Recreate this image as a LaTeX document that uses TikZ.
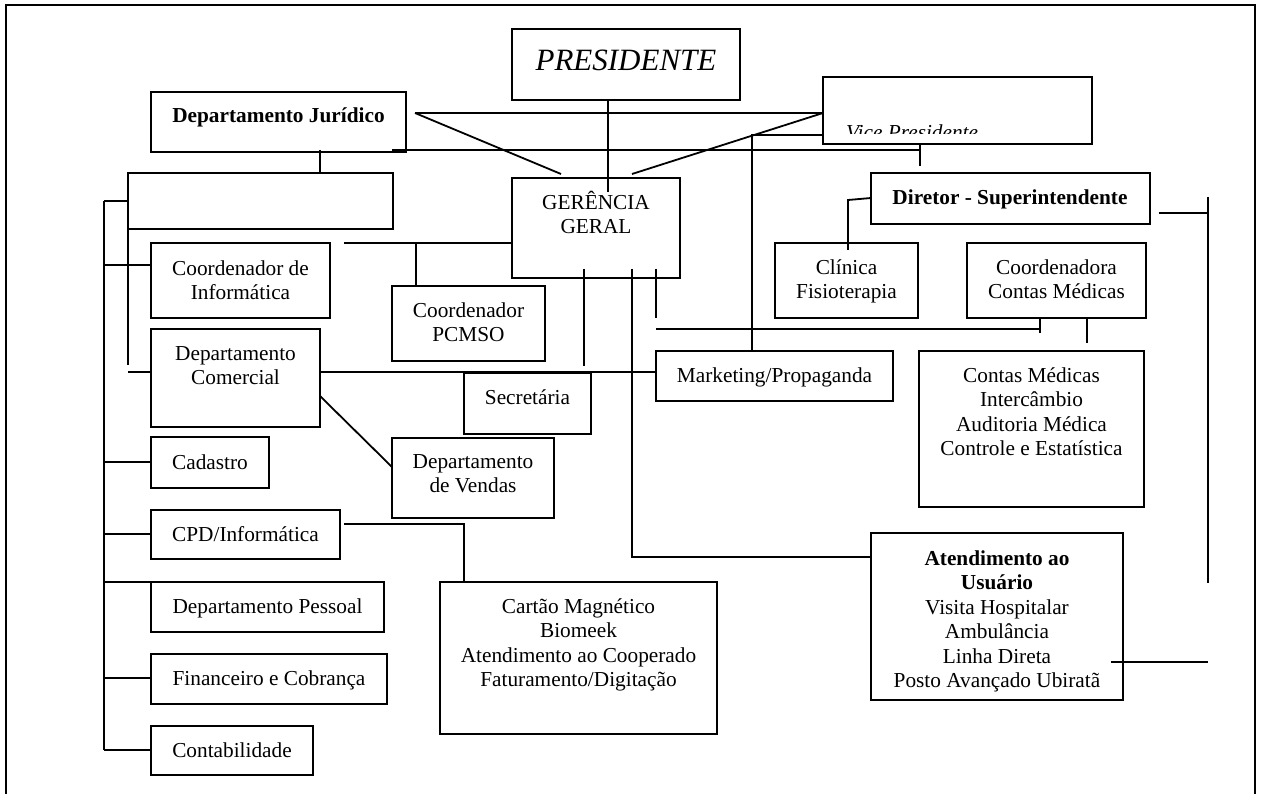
\documentclass[tikz,border=0pt]{standalone}
\usepackage{fontspec}
\setmainfont{Liberation Serif}
\newcommand\sz{\fontsize{21.3}{24.5}\selectfont}
\newcommand\hs{\rule{0pt}{20pt}}
\newcommand\obox[5]{\node[box, minimum width={#4-#2}, minimum height={#5-#3}] (#1) at ({(#2+#4)/2},{(#3+#5)/2}) {};}
\tikzset{
  box/.style={draw, line width=2.4pt, inner sep=0pt, outer sep=0pt, rectangle},
  ln/.style={line width=1.8pt},
  txt/.style={inner sep=0pt, anchor=north, align=center, font=\sz},
}
\begin{document}
\begin{tikzpicture}[x=1pt,y=-1pt]
\useasboundingbox (0,0) rectangle (1261,794);
\fill[white] (0,0) rectangle (1261,794);
% outer frame
\draw[line width=1.5pt] (6,794) -- (6,5) -- (1255,5) -- (1255,794);

% boxes
\obox{pres}{512}{29}{740}{100}
\obox{dj}{151}{92}{406}{152}
\obox{vp}{823}{77}{1092}{144}
\obox{blank}{128}{173}{393}{229}
\obox{ger}{512}{178}{680}{278}
\obox{dir}{871}{173}{1150}{224}
\obox{coordinf}{151}{243}{330}{318}
\obox{pcmso}{392}{286}{545}{361}
\obox{clin}{775}{243}{918}{318}
\obox{coordcm}{967}{243}{1146}{318}
\obox{com}{151}{329}{320}{427}
\obox{sec}{464}{373}{591}{434}
\obox{mkt}{656}{351}{893}{401}
\obox{cm}{919}{351}{1144}{507}
\obox{vendas}{392}{438}{554}{518}
\obox{cad}{151}{437}{269}{488}
\obox{cpd}{151}{510}{340}{559}
\obox{pess}{151}{582}{384}{632}
\obox{fin}{151}{654}{387}{704}
\obox{cont}{151}{726}{313}{775}
\obox{cartao}{440}{582}{717}{734}
\obox{atend}{871}{533}{1123}{700}

% texts
\node[txt, anchor=base, font=\fontsize{31}{35}\selectfont\itshape] (pres-t) at (626,71) {PRESIDENTE};
\node[txt, anchor=base, font=\sz\bfseries] (dj-t) at (278.5,123) {Departamento Jurídico};
\begin{scope}
  \clip (823,77) rectangle (1092,134);
  \node[txt, anchor=base west, font=\sz\itshape] (vp-t) at (846,140) {Vice Presidente};
\end{scope}
\node[txt] (ger-t) at (596,189) {\hs GERÊNCIA\\GERAL};
\node[txt, anchor=base, font=\sz\bfseries] (dir-t) at (1010,205) {Diretor - Superintendente};
\node[txt] (coordinf-t) at (240.5,255) {\hs Coordenador de\\Informática};
\node[txt] (pcmso-t) at (468.5,297) {\hs Coordenador\\PCMSO};
\node[txt] (clin-t) at (846.5,254) {\hs Clínica\\Fisioterapia};
\node[txt] (coordcm-t) at (1056.5,254) {\hs Coordenadora\\Contas Médicas};
\node[txt] (com-t) at (235.5,340) {\hs Departamento\\Comercial};
\node[txt, anchor=base] (sec-t) at (527.5,404) {Secretária};
\node[txt, anchor=base] (mkt-t) at (774.5,382) {Marketing/Propaganda};
\node[txt] (cm-t) at (1031.5,362) {\hs Contas Médicas\\Intercâmbio\\Auditoria Médica\\Controle e Estatística};
\node[txt] (vendas-t) at (473,448) {\hs Departamento\\de Vendas};
\node[txt, anchor=base] (cad-t) at (210,469) {Cadastro};
\node[txt, anchor=base] (cpd-t) at (245.5,541) {CPD/Informática};
\node[txt, anchor=base] (pess-t) at (267.5,613) {Departamento Pessoal};
\node[txt, anchor=base] (fin-t) at (269,685) {Financeiro e Cobrança};
\node[txt, anchor=base] (cont-t) at (232,757) {Contabilidade};
\node[txt] (cartao-t) at (578.5,593) {\hs Cartão Magnético\\Biomeek\\Atendimento ao Cooperado\\Faturamento/Digitação};
\node[txt] (atend-t) at (997,545) {\hs\textbf{Atendimento ao}\\\textbf{Usuário}\\Visita Hospitalar\\Ambulância\\Linha Direta\\Posto Avançado Ubiratã};

% connectors
\coordinate (djr) at (415,113);
\coordinate (gtl) at (561,174);
\coordinate (gtr) at (632,174);
\draw[ln] (pres.south -| 608,0) -- (608,192);
\draw[ln] (djr) -- (vp.west |- djr);
\draw[ln] (djr) -- (gtl);
\draw[ln] (vp.west |- djr) -- (gtr);
\draw[ln] (392,150) -- (920,150);
\draw[ln] (vp.south -| 920,0) -- (920,166);
\draw[ln] (vp.west |- 0,135) -- (752,135) -- (mkt.north -| 752,0);
\draw[ln] (320,150) -- (blank.north -| 320,0);
% left spine
\draw[ln] (104,201) -- (104,750);
\draw[ln] (104,201) -- (blank.west |- 0,201);
\draw[ln] (blank.south west) -- (128,365);
\draw[ln] (128,372) -- (com.west |- 0,372);
\draw[ln] (104,265) -- (coordinf.west |- 0,265);
\draw[ln] (104,462) -- (cad.west |- 0,462);
\draw[ln] (104,534) -- (cpd.west |- 0,534);
\draw[ln] (104,582) -- (pess.north west);
\draw[ln] (104,678) -- (fin.west |- 0,678);
\draw[ln] (104,750) -- (cont.west |- 0,750);
% gerencia links
\draw[ln] (344,243) -- (ger.west |- 0,243);
\draw[ln] (416,243) -- (pcmso.north -| 416,0);
\draw[ln] (com.east |- 0,372) -- (mkt.west |- 0,372);
\draw[ln] (320,396) -- (392,467);
\draw[ln] (344,524) -- (464,524) -- (cartao.north -| 464,0);
\draw[ln] (584,269) -- (584,366);
\draw[ln] (632,269) -- (632,557) -- (atend.west |- 0,557);
\draw[ln] (656,269) -- (656,318);
\draw[ln] (656,329) -- (1040,329);
\draw[ln] (coordcm.south -| 1040,0) -- (1040,333);
\draw[ln] (coordcm.south -| 1087,0) -- (1087,343);
% diretor links
\draw[ln] (dir.west |- 0,198) -- (848,200) -- (848,250);
\draw[ln] (1159,213) -- (1208,213);
\draw[ln] (1208,197) -- (1208,583);
\draw[ln] (1111,662) -- (1208,662);
\end{tikzpicture}
\end{document}
